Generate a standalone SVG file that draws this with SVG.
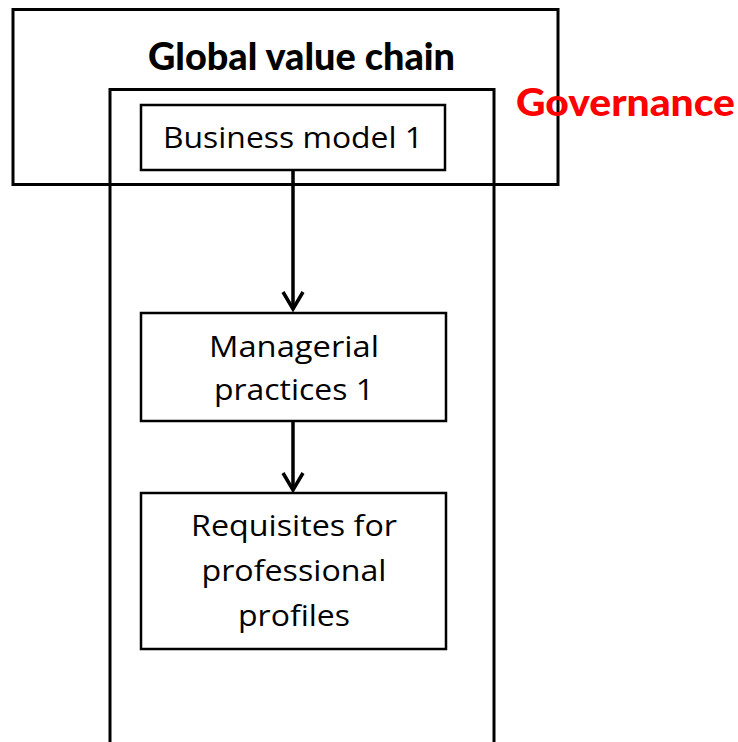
<svg xmlns="http://www.w3.org/2000/svg" width="738" height="742" viewBox="0 0 738 742">
  <defs>
    <!-- open V arrowhead, drawn pointing along +x so orient="auto" turns it with the line -->
    <marker id="vhead" viewBox="0 0 22 24" refX="19" refY="12" markerWidth="22" markerHeight="24" markerUnits="userSpaceOnUse" orient="auto">
      <path d="M2,2 L19,12 L2,22" fill="none" stroke="#000" stroke-width="3.5" stroke-linejoin="miter"/>
    </marker>
    <style>
      .frame { fill: none; stroke: #000; stroke-width: 3; }
      .box { fill: #fff; stroke: #000; stroke-width: 2.5; }
      .label { font-family: "Open Sans", "Noto Sans", "Liberation Sans", sans-serif; font-size: 30px; fill: #000; text-anchor: middle; }
      .heading { font-family: "Lato", "DejaVu Sans", sans-serif; font-weight: 900; font-size: 38px; }
      .conn { stroke: #000; stroke-width: 3.5; fill: none; marker-end: url(#vhead); }
    </style>
  </defs>
  <rect width="738" height="742" fill="#fff"/>

  <g id="global-value-chain">
    <rect class="frame" x="13" y="9.5" width="545" height="175"/>
    <text class="heading" x="148" y="70" textLength="307" lengthAdjust="spacingAndGlyphs" fill="#000">Global value chain</text>
  </g>

  <g id="governance">
    <rect class="frame" x="110" y="89.5" width="384" height="670"/>
    <text class="heading" x="516" y="116" textLength="219" lengthAdjust="spacingAndGlyphs" fill="#ff0000">Governance</text>
  </g>

  <g id="business-model">
    <rect class="box" x="141" y="105" width="304" height="65"/>
    <text class="label" x="293" y="148" textLength="260" lengthAdjust="spacingAndGlyphs">Business model 1</text>
  </g>

  <g id="managerial-practices">
    <rect class="box" x="141" y="313" width="305" height="108"/>
    <text class="label" x="294" y="357" textLength="170" lengthAdjust="spacingAndGlyphs">Managerial</text>
    <text class="label" x="294" y="400" textLength="160" lengthAdjust="spacingAndGlyphs">practices 1</text>
  </g>

  <g id="requisites">
    <rect class="box" x="141" y="493" width="305" height="156"/>
    <text class="label" x="294" y="536" textLength="206" lengthAdjust="spacingAndGlyphs">Requisites for</text>
    <text class="label" x="294" y="581" textLength="185" lengthAdjust="spacingAndGlyphs">professional</text>
    <text class="label" x="294" y="626" textLength="112" lengthAdjust="spacingAndGlyphs">profiles</text>
  </g>

  <g id="connectors">
    <line class="conn" x1="293" y1="171" x2="293" y2="309"/>
    <line class="conn" x1="293" y1="422" x2="293" y2="490"/>
  </g>
</svg>
